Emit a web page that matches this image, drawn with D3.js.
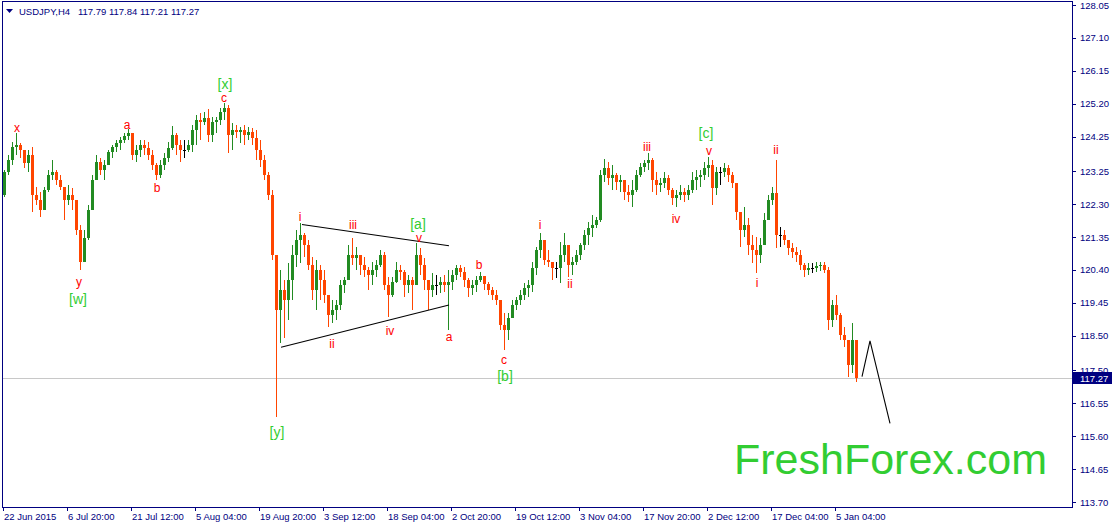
<!DOCTYPE html>
<html>
<head>
<meta charset="utf-8">
<script src="https://cdn.jsdelivr.net/npm/d3@7"></script>
<style>
  body { margin: 0; background: #fff; }
  svg { display: block; font-family: Tahoma, "Liberation Sans", Arial, sans-serif; }
  .axis text { fill: #000080; font-size: 9.5px; }
  .axis line { stroke: #000080; }
  .axis path { display: none; }
</style>
</head>
<body>
<div id="grafica"></div>
<script>
// Cabecera
const symbol = "USDJPY,H4"
const headerOHLC = [117.79, 117.84, 117.21, 117.27]
const lastPrice = 117.27

// Velas agrupadas (4 barras H4 por vela)
const firstOpen = 122.56
const hi = [123.29,123.72,124.09,124.35,124.06,123.86,123.86,123.95,122.79,122.65,
  122.79,123.29,123.57,123.29,123.14,122.79,122.85,122.76,122.42,121.70,
  121.55,122.27,123.14,123.72,123.63,123.57,123.86,124.01,124.15,124.24,
  124.35,124.47,124.35,124.01,124.15,124.15,124.09,123.86,123.49,123.57,
  123.78,124.09,124.56,124.35,124.15,124.15,124.15,124.59,124.87,124.93,
  124.96,125.05,124.82,124.82,125.07,125.22,125.16,124.64,124.59,124.53,
  124.59,124.53,124.50,124.44,124.15,123.72,123.23,122.71,120.83,120.40,
  120.11,120.60,121.12,121.55,121.75,121.47,121.26,120.77,120.69,120.54,
  120.40,119.62,119.53,119.53,120.11,120.19,121.12,121.32,121.06,120.83,
  120.77,120.48,120.63,120.69,120.98,120.92,120.19,120.19,120.63,120.54,
  120.40,120.25,120.19,121.18,121.03,120.74,120.11,120.31,120.25,120.19,
  120.25,120.40,120.40,120.54,120.54,120.48,120.17,120.11,120.22,120.34,
  120.19,120.05,119.91,119.82,119.53,119.16,119.16,119.53,119.62,119.82,
  120.02,120.11,120.63,121.06,121.47,121.12,120.98,120.60,120.63,121.21,
  121.47,121.12,120.77,120.98,121.18,121.55,121.78,121.99,121.93,123.29,
  123.60,123.52,123.43,123.20,123.14,122.91,122.85,123.00,123.29,123.49,
  123.57,123.78,123.63,123.23,123.05,123.23,123.14,122.76,122.71,122.85,
  122.76,122.85,123.23,123.29,123.29,123.52,123.66,123.57,123.37,123.37,
  123.49,123.43,123.23,122.91,122.04,122.22,121.90,121.41,121.35,121.32,
  122.04,122.56,122.79,123.57,121.64,121.55,121.26,121.18,121.06,120.98,
  120.60,120.60,120.60,120.63,120.63,120.63,120.48,119.53,119.67,119.16,
  118.75,118.38,118.87,118.38]
const lo = [122.51,123.14,123.43,123.72,123.63,123.34,123.23,122.07,122.27,121.93,
  122.42,122.65,123.00,122.85,122.71,121.84,122.27,122.13,121.41,120.40,
  120.83,121.26,122.13,123.00,123.14,123.00,123.43,123.63,123.80,123.86,
  124.06,124.15,123.57,123.52,123.66,123.72,123.57,123.29,123.00,123.05,
  123.29,123.52,123.86,123.72,123.52,123.63,123.80,123.80,124.01,124.15,
  124.59,124.09,124.09,124.35,124.59,124.73,123.78,123.86,124.21,124.06,
  124.01,124.15,124.01,123.57,123.37,123.00,122.42,120.69,116.15,118.29,
  118.43,118.95,119.53,120.48,120.60,120.77,120.40,119.53,119.24,119.53,
  119.44,118.75,118.87,118.95,119.24,119.73,120.11,120.54,120.40,120.25,
  120.19,119.82,119.96,120.19,120.48,119.82,119.04,119.62,120.02,120.11,
  119.62,119.73,119.24,120.02,120.25,119.82,119.24,119.62,119.67,119.73,
  119.76,118.67,119.82,120.11,120.19,119.91,119.62,119.67,119.76,120.05,
  119.82,119.67,119.53,119.39,118.67,118.09,118.38,119.10,119.24,119.39,
  119.53,119.62,119.76,120.25,120.74,120.54,120.48,120.11,120.17,120.02,
  120.63,120.19,120.25,120.54,120.69,120.98,121.12,121.35,121.61,121.78,
  122.94,122.85,122.71,122.71,122.65,122.42,122.36,122.22,122.65,123.08,
  123.23,123.29,122.65,122.56,122.65,122.76,122.56,122.27,122.22,122.42,
  122.36,122.42,122.62,122.71,122.79,123.00,123.08,122.27,122.56,122.85,
  123.08,122.94,122.76,121.84,121.06,121.35,120.83,120.60,120.31,120.60,
  121.18,121.84,122.27,121.03,121.06,121.12,120.83,120.74,120.63,120.40,
  120.19,120.25,120.31,120.34,120.37,120.31,118.67,118.75,118.95,118.38,
  118.17,117.31,117.42,117.16]
const cl = [123.23,123.57,123.95,124.01,123.86,123.49,123.72,122.56,122.42,122.13,
  122.71,123.14,123.23,123.00,122.79,122.42,122.56,122.42,121.55,120.63,
  121.32,122.13,123.00,123.52,123.29,123.43,123.80,123.95,124.06,124.15,
  124.27,124.35,123.72,123.86,124.01,123.92,123.72,123.43,123.14,123.43,
  123.63,123.92,124.30,124.01,123.86,123.86,124.01,124.44,124.73,124.67,
  124.79,124.30,124.67,124.73,124.96,125.07,124.30,124.44,124.38,124.44,
  124.30,124.38,124.21,123.86,123.57,123.14,122.56,120.83,119.24,119.82,
  119.53,120.11,120.83,121.26,121.41,121.12,120.54,119.82,120.40,120.11,
  119.67,119.10,119.24,119.39,119.96,120.11,120.83,120.74,120.83,120.54,
  120.40,120.25,120.40,120.54,120.83,119.96,119.67,120.05,120.40,120.34,
  119.96,120.11,119.96,120.83,120.54,120.11,119.82,119.96,119.96,120.05,
  119.96,120.05,120.25,120.46,120.34,120.11,119.88,119.96,120.11,120.22,
  119.99,119.82,119.67,119.53,118.81,118.67,119.01,119.39,119.53,119.67,
  119.88,119.96,120.46,120.98,121.26,120.69,120.63,120.46,120.46,120.83,
  121.12,120.54,120.63,120.83,121.12,121.41,121.61,121.70,121.84,123.14,
  123.34,123.05,123.14,122.94,123.00,122.65,122.56,122.71,123.14,123.37,
  123.49,123.57,123.00,122.85,122.91,123.05,122.71,122.48,122.56,122.65,
  122.56,122.71,123.00,123.08,123.14,123.34,123.43,122.76,123.23,123.23,
  123.34,123.14,122.91,122.07,121.55,121.70,121.12,120.98,120.83,121.12,
  121.84,122.42,122.62,121.41,121.41,121.26,121.03,120.92,120.83,120.54,
  120.40,120.46,120.46,120.51,120.54,120.40,118.95,119.39,119.10,118.52,
  118.38,117.65,118.38,117.27]
const barsPerCandle = 4

// Escalas de ejes
const priceTicks = [128.05,127.10,126.15,125.20,124.25,123.25,122.30,121.35,120.40,119.45,118.50,117.50,116.55,115.60,114.65,113.70]
const dateLabels = ["22 Jun 2015","6 Jul 20:00","21 Jul 12:00","5 Aug 04:00","19 Aug 20:00","3 Sep 12:00","18 Sep 04:00","2 Oct 20:00","19 Oct 12:00","3 Nov 04:00","17 Nov 20:00","2 Dec 12:00","17 Dec 04:00","5 Jan 04:00"]
const barsPerLabel = 64

// Ondas de Elliott: [texto, barra, precio]
const redLabels = [["x",14,124.50],["a",124,124.58],["b",154,122.78],["c",221,125.36],["y",76,120.05],
  ["i",297,121.93],["iii",350,121.70],["v",416,121.33],["ii",329,118.26],["iv",387,118.65],
  ["a",446,118.47],["b",476,120.54],["c",501,117.80],["i",537,121.70],["ii",567,119.99],
  ["iii",644,123.94],["iv",673,121.87],["v",706,123.83],["ii",773,123.86],["i",754,120.01]]
const greenLabels = [["[x]",222,125.76],["[w]",75,119.56],["[a]",415,121.72],["[b]",502,117.34],["[c]",703,124.36],["[y]",274,115.72]]

// Triangulo y proyeccion: [barra, precio]
const triUpper = [[299,121.71],[446,121.10]]
const triLower = [[278,118.17],[446,119.39]]
const projection = [[859,117.32],[867,118.35],[887,115.97]]

const anchoTotal = 1114
const altoTotal = 527
const plot = { left: 2, right: 1072, top: 2, bottom: 507 }

const svg = d3.select("#grafica").append("svg")
  .attr("width", anchoTotal)
  .attr("height", altoTotal)

const x = d3.scaleLinear().domain([0, 1069]).range([3, 1072])
const y = d3.scaleLinear().domain([113.70, 128.05]).range([502, 5])

// Linea del precio actual
svg.append("line")
  .attr("x1", plot.left).attr("x2", plot.right)
  .attr("y1", Math.round(y(lastPrice)) + 0.5).attr("y2", Math.round(y(lastPrice)) + 0.5)
  .attr("stroke", "#c8c8c8")

// Velas
const candles = cl.map((c, i) => ({
  o: i === 0 ? firstOpen : cl[i - 1], h: hi[i], l: lo[i], c: c, i: i
}))
const colorOf = d => d.c > d.o ? "#228b22" : d.c < d.o ? "#ff4500" : "#000000"
const cx = d => x(d.i * barsPerCandle + 1.5)

const g = svg.append("g").attr("shape-rendering", "crispEdges")
g.selectAll("line.wick").data(candles).enter().append("line")
  .attr("class", "wick")
  .attr("x1", cx).attr("x2", cx)
  .attr("y1", d => y(d.h)).attr("y2", d => y(d.l))
  .attr("stroke", colorOf)
g.selectAll("rect").data(candles).enter().append("rect")
  .attr("x", d => cx(d) - 1.5)
  .attr("width", 3)
  .attr("y", d => y(Math.max(d.o, d.c)))
  .attr("height", d => Math.max(1, Math.abs(y(d.o) - y(d.c))))
  .attr("fill", colorOf)

// Triangulo y proyeccion
const line = d3.line().x(d => x(d[0])).y(d => y(d[1]))
;[triUpper, triLower, projection].forEach(p => {
  svg.append("path").attr("d", line(p))
    .attr("fill", "none").attr("stroke", "#000").attr("stroke-width", 1.1)
})

// Etiquetas
svg.append("g").selectAll("text").data(redLabels).enter().append("text")
  .attr("x", d => x(d[1])).attr("y", d => y(d[2]))
  .attr("text-anchor", "middle").attr("dominant-baseline", "central")
  .attr("font-family", "'Liberation Sans', Arial, sans-serif")
  .attr("font-size", 12).attr("fill", "#ff0000")
  .text(d => d[0])
svg.append("g").selectAll("text").data(greenLabels).enter().append("text")
  .attr("x", d => x(d[1])).attr("y", d => y(d[2]))
  .attr("text-anchor", "middle").attr("dominant-baseline", "central")
  .attr("font-family", "'Liberation Sans', Arial, sans-serif")
  .attr("font-size", 14).attr("fill", "#32cd32")
  .text(d => d[0])

// Marca de agua
svg.append("text")
  .attr("x", 734).attr("y", 474)
  .attr("font-family", "'Liberation Sans', Arial, sans-serif")
  .attr("font-size", 43).attr("fill", "#32cd32")
  .text("FreshForex.com")

// Marco
svg.append("rect")
  .attr("x", plot.left + 0.5).attr("y", plot.top - 0.5)
  .attr("width", plot.right - plot.left).attr("height", plot.bottom - plot.top + 0.5)
  .attr("fill", "none").attr("stroke", "#000080")
  .attr("shape-rendering", "crispEdges")

// Ejes
const yAxis = d3.axisRight(y).tickValues(priceTicks).tickFormat(d3.format(".2f")).tickSize(4).tickPadding(4)
svg.append("g").attr("class", "axis")
  .attr("transform", `translate(${plot.right},0)`)
  .attr("shape-rendering", "crispEdges")
  .call(yAxis)

const xAxis = d3.axisBottom(x)
  .tickValues(dateLabels.map((d, i) => i * barsPerLabel))
  .tickFormat((d, i) => dateLabels[i]).tickSize(4)
const xg = svg.append("g").attr("class", "axis")
  .attr("transform", `translate(0,${plot.bottom})`)
  .attr("shape-rendering", "crispEdges")
  .call(xAxis)
xg.selectAll("text").attr("text-anchor", "start").attr("dx", 0.5).attr("y", 6).attr("dy", "0.71em")

// Caja del ultimo precio
const yl = y(lastPrice)
svg.append("rect")
  .attr("x", plot.right + 1).attr("y", Math.round(yl) - 6)
  .attr("width", 39).attr("height", 12)
  .attr("fill", "#000080")
svg.append("text")
  .attr("x", plot.right + 8).attr("y", yl)
  .attr("dominant-baseline", "central")
  .attr("font-size", 9.5).attr("fill", "#fff")
  .text(d3.format(".2f")(lastPrice))

// Cabecera
const header = svg.append("g")
header.append("path")
  .attr("d", d3.line()([[6, 9], [13, 9], [9.5, 13]]) + "Z")
  .attr("fill", "#000080")
header.append("text")
  .attr("x", 19).attr("y", 11)
  .attr("dominant-baseline", "central")
  .attr("font-size", 9.5).attr("fill", "#000080")
  .style("white-space", "pre")
  .text(`${symbol}   ${headerOHLC.map(d3.format(".2f")).join(" ")}`)
</script>
</body>
</html>
